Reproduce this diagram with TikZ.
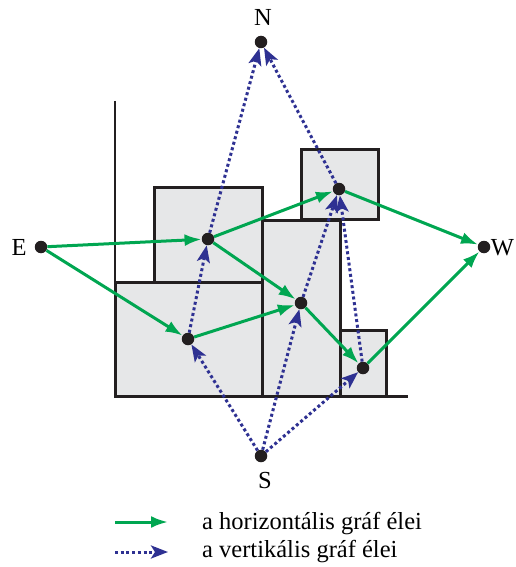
\documentclass[tikz,border=0pt]{standalone}
\usepackage{fontspec}
\setmainfont{Liberation Serif}
\usetikzlibrary{arrows.meta}
\definecolor{hgreen}{RGB}{0,166,81}
\definecolor{vblue}{RGB}{46,49,146}
\definecolor{roomgray}{RGB}{230,231,232}
\definecolor{ink}{RGB}{35,31,32}
\tikzset{room/.style={draw=ink,line width=3pt,fill=roomgray},
  pt/.style={circle,fill=ink,inner sep=0pt,minimum size=12.5pt},
  lbl/.style={font=\fontsize{24.5}{28}\selectfont,inner sep=0pt},
  harr/.style={hgreen,line width=3pt,-{Latex[length=17pt,width=12pt]}},
  varr/.style={vblue,line width=3pt,dash pattern=on 3pt off 2.7pt,-{Stealth[length=17pt,width=13pt,inset=4pt]}}}

\begin{document}
\begin{tikzpicture}[x=1pt,y=-1pt]
\useasboundingbox (0,0) rectangle (515,567);
% rooms
\draw[room] (115,282) rectangle (262,396); \draw[room] (154,187) rectangle (262,282);
\draw[room] (262,220) rectangle (340,396); \draw[room] (301,149) rectangle (378,219);
\draw[room] (340,330) rectangle (386,396);
\draw[ink,line width=2pt] (115,101)--(115,396); \draw[ink,line width=3pt] (115,396)--(408,396);
% points
\node[pt] (E) at (41,247){}; \node[pt] (N) at (261,42){}; \node[pt] (W) at (484,247){}; \node[pt] (S) at (261,456){};
\node[pt] (p1) at (208,239){}; \node[pt] (p2) at (188,339){}; \node[pt] (p3) at (301,303){};
\node[pt] (p4) at (339,189){}; \node[pt] (p5) at (363,368){};
\node[lbl] (Nl) at (263,17){N}; \node[lbl] (El) at (19,247){E}; \node[lbl] (Wl) at (502.5,248){W}; \node[lbl] (Sl) at (265,481){S};
% vertical graph
\draw[varr] (S)--(p2); \draw[varr] (S)--(p3); \draw[varr] (S)--(p5);
\draw[varr] (p2)--(p1); \draw[varr] (p3)--(p4); \draw[varr] (p5)--(p4);
\draw[varr] (p1)--(N); \draw[varr] (p4)--(N);
% horizontal graph
\draw[harr] (E)--(p1); \draw[harr] (E)--(p2); \draw[harr] (p1)--(p4); \draw[harr] (p1)--(p3);
\draw[harr] (p2)--(p3); \draw[harr] (p3)--(p5); \draw[harr] (p4)--(W); \draw[harr] (p5)--(W);
% legend
\coordinate (h1) at (115,522); \coordinate (h2) at (168,522);
\coordinate (v1) at (115,552); \coordinate (v2) at (168,552);
\draw[harr] (h1)--(h2); \draw[varr] (v1)--(v2);
\node[lbl,anchor=base west] (ht) at (202,529){a horizontális gráf élei};
\node[lbl,anchor=base west] (vt) at (202,557){a vertikális gráf élei};
\end{tikzpicture}
\end{document}
